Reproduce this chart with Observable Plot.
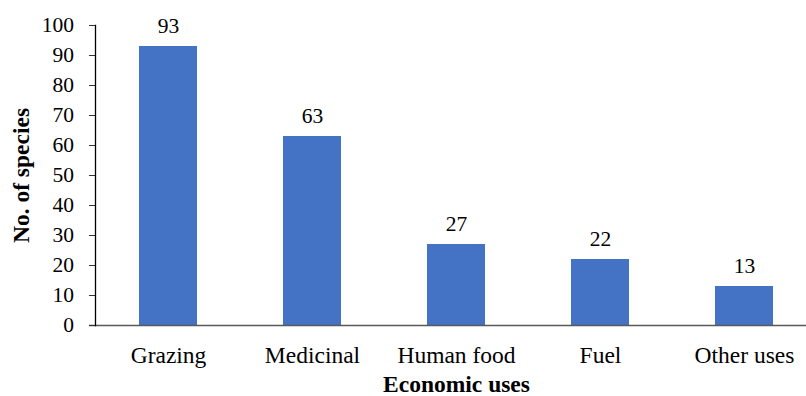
<!DOCTYPE html>
<html>
<head>
<meta charset="utf-8">
<script src="https://cdn.jsdelivr.net/npm/d3@7"></script>
<script src="https://cdn.jsdelivr.net/npm/@observablehq/plot@0.6"></script>
<style>
  html, body { margin: 0; padding: 0; background: #fff; }
</style>
</head>
<body>
<div id="chart"></div>
<script>
const categories = ["Grazing", "Medicinal", "Human food", "Fuel", "Other uses"];
const counts = [93, 63, 27, 22, 13];
const yTicks = [0, 10, 20, 30, 40, 50, 60, 70, 80, 90, 100];
const xTitle = "Economic uses";
const yTitle = "No. of species";
const FONT = "Liberation Serif";

const data = categories.map((c, i) => ({category: c, count: counts[i]}));

const chart = Plot.plot({
  width: 806,
  height: 396,
  marginLeft: 95,
  marginRight: 0,
  marginTop: 25,
  marginBottom: 71,
  style: {fontFamily: FONT, fontSize: "21px", color: "#000", background: "#fff"},
  x: {domain: categories, range: [95, 817.5], paddingInner: 0.597, paddingOuter: 0.2985, label: null},
  y: {domain: [0, 100], label: null},
  marks: [
    Plot.barY(data, {x: "category", y: "count", fill: "#4472C4"}),
    Plot.ruleY([0], {stroke: "#595959", strokeWidth: 1.3, insetLeft: -6}),
    Plot.frame({anchor: "left", stroke: "#000", strokeWidth: 1.3}),
    Plot.axisY({ticks: yTicks, tickSize: 6, tickPadding: 15.5, fontSize: 21.5, fontFamily: FONT, label: null, stroke: "#333"}),
    Plot.axisX({tickSize: 0, tickPadding: 21, fontSize: 23.5, fontFamily: FONT, label: null}),
    Plot.text(data, {x: "category", y: "count", text: d => String(d.count), dy: -20.7, fontSize: 21.5, fontFamily: FONT}),
    Plot.text([xTitle], {frameAnchor: "bottom", lineAnchor: "bottom", dy: 66, dx: 5.5, fontWeight: "bold", fontSize: 23.5, fontFamily: FONT}),
    Plot.text([yTitle], {frameAnchor: "left", textAnchor: "middle", dx: -74, rotate: -90, fontWeight: "bold", fontSize: 23.5, fontFamily: FONT})
  ]
});
document.getElementById("chart").append(chart);
</script>
</body>
</html>
